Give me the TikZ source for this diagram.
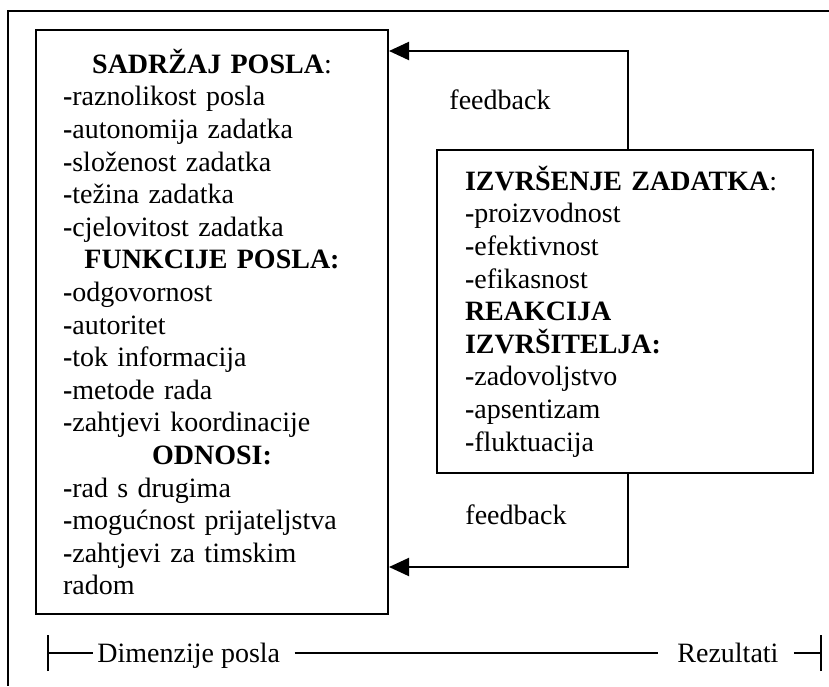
\documentclass[tikz,border=0pt]{standalone}
\usepackage{fontspec}
\setmainfont{Liberation Serif}
\usetikzlibrary{arrows.meta}
\newcommand{\crt}{\textbf{-}}

\begin{document}
\begin{tikzpicture}[x=0.5pt,y=-0.5pt,
  txt/.style={font=\fontsize{14}{16.3}\selectfont},
  box/.style={draw,line width=1pt,txt,align=left,inner ysep=0pt},
  fb/.style={line width=1pt,-{Triangle[length=10pt,width=9pt]}},
  mjera/.style={txt,inner sep=0pt,text height=9.5pt,text depth=0pt},
  crta/.style={line width=0.7pt}]
  \useasboundingbox (0,0) rectangle (829,686);
  \draw[line width=1pt] (829,11) -- (8,11) -- (8,686);
  \node[box,text width=149pt,inner xsep=13.5pt,minimum height=292pt] at (212,322) (posao) {%
    {\centering\textbf{SADRŽAJ POSLA}:\par}
    \crt raznolikost posla\\
    \crt autonomija zadatka\\
    \crt složenost zadatka\\
    \crt težina zadatka\\
    \crt cjelovitost zadatka\par
    {\centering\textbf{FUNKCIJE POSLA:}\par}
    \crt odgovornost\\
    \crt autoritet\\
    \crt tok informacija\\
    \crt metode rada\\
    \crt zahtjevi koordinacije\par
    {\centering\textbf{ODNOSI:}\par}
    \crt rad s drugima\\
    \crt mogućnost prijateljstva\\
    \crt zahtjevi za timskim\\
    radom};
  \node[box,text width=160pt,inner xsep=14pt,minimum height=161.5pt] at (625,311.5) (rezultat) {%
    \textbf{IZVRŠENJE ZADATKA}:\\
    \crt proizvodnost\\
    \crt efektivnost\\
    \crt efikasnost\\
    \textbf{REAKCIJA}\\
    \textbf{IZVRŠITELJA:}\\
    \crt zadovoljstvo\\
    \crt apsentizam\\
    \crt fluktuacija};
  \coordinate (gore) at (628,51);
  \coordinate (dolje) at (628,567);
  \draw[fb] (rezultat.north -| gore) -- (gore) -- (gore -| posao.east);
  \draw[fb] (rezultat.south -| dolje) -- (dolje) -- (dolje -| posao.east);
  \node[txt] at (500,100) (fbgore) {feedback};
  \node[txt] at (516,515) (fbdolje) {feedback};
  \node[mjera,anchor=west] at (97,653) (dim) {Dimenzije posla};
  \node[mjera,anchor=west] at (677,653) (rez) {Rezultati};
  \coordinate (lijevo) at (48,653);
  \coordinate (desno) at (821,653);
  \draw[crta] ([yshift=-9pt]lijevo) -- ([yshift=9pt]lijevo);
  \draw[crta] ([yshift=-9pt]desno) -- ([yshift=9pt]desno);
  \draw[crta] (lijevo) -- ([xshift=-2pt]dim.west);
  \draw[crta] ([xshift=7pt]dim.east) -- ([xshift=-9.5pt]rez.west);
  \draw[crta] ([xshift=7.5pt]rez.east) -- (desno);
\end{tikzpicture}
\end{document}
